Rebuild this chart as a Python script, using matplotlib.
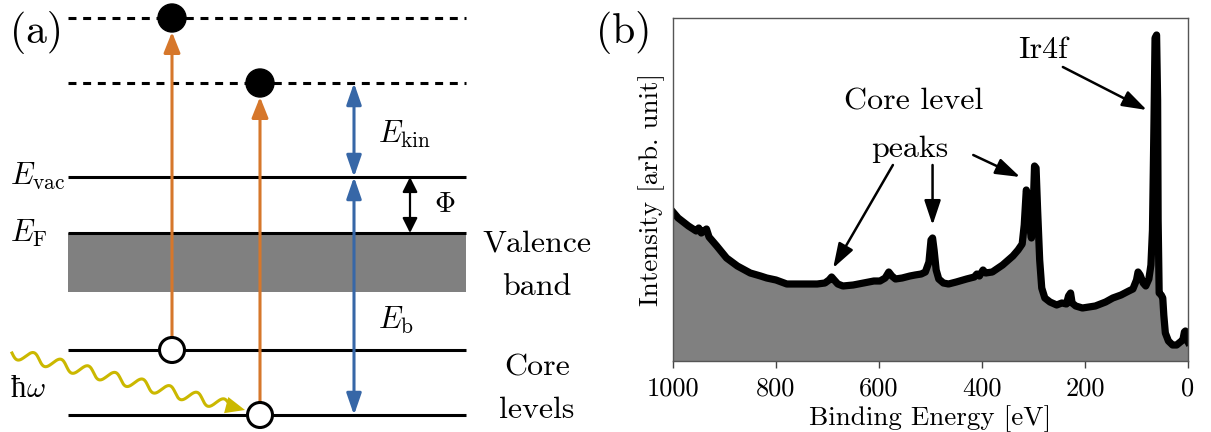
import numpy as np
import matplotlib
matplotlib.use("Agg")
import matplotlib.pyplot as plt
from matplotlib.patches import Circle, Rectangle, FancyArrowPatch

plt.rcParams['font.family'] = 'serif'
plt.rcParams['font.serif'] = ['cmr10', 'DejaVu Serif']
plt.rcParams['mathtext.fontset'] = 'cm'
plt.rcParams['axes.formatter.use_mathtext'] = True

# ---------------- data: XPS survey spectrum (panel b) ----------------
binding_energy = [1000, 990, 970, 955, 950, 945, 935, 930, 915, 896, 875, 850, 830, 818,
                  800, 779, 760, 740, 720, 705, 697, 692, 687, 680, 670, 650, 630, 610,
                  598, 588, 581, 575, 568, 555, 540, 530, 518, 510, 503, 499, 496, 493,
                  489, 484, 475, 465, 450, 430, 415, 410, 405, 398, 393, 380, 360, 340,
                  330, 322, 318, 314, 311, 307, 304, 301, 298, 295, 292, 288, 284, 278,
                  268, 255, 245, 236, 232, 228, 225, 218, 205, 180, 160, 146, 130, 115,
                  107, 100, 97, 93, 87, 82, 76, 72, 69, 66, 64, 61, 59, 58, 56, 52, 49,
                  47, 44, 38, 30, 22, 15, 10, 7, 5, 2, 0]
intensity = [149, 143, 135, 130, 133, 128, 132, 124, 115, 103, 95, 88, 85, 83,
             81, 77, 77, 77, 77, 78, 81, 84, 81, 77, 75, 76, 78, 80,
             80, 83, 89, 85, 82, 83, 85, 86, 87, 89, 99, 121, 123, 111,
             91, 82, 78, 77, 79, 82, 84, 87, 85, 91, 88, 89, 96, 105,
             111, 117, 136, 171, 166, 133, 123, 146, 195, 193, 151, 101, 73, 63,
             59, 56, 58, 57, 65, 68, 58, 55, 53, 55, 59, 63, 66, 70,
             72, 81, 89, 86, 78, 75, 82, 96, 131, 241, 323, 326, 261, 141, 68, 66, 63,
             46, 28, 20, 16, 16, 19, 21, 29, 30, 21, 19]
energy_ticks = [1000, 800, 600, 400, 200, 0]

# ---------------- diagram levels (panel a) ----------------
level_x = (68, 466)
dashed_levels = [18, 83]          # free-electron final states
vac_level = 177
fermi_level = 233
band_bottom = 292
core_levels = [350, 415]
electron_x = [172, 260]

orange = '#d6772b'
blue = '#3767a7'
yellow = '#cbb800'

fig = plt.figure(figsize=(12.11, 4.32), dpi=100)

# ================= panel (a) =================
axa = fig.add_axes([0, 0, 600 / 1211, 1])
axa.set_xlim(0, 600)
axa.set_ylim(432, 0)
axa.axis('off')

for y in dashed_levels:
    axa.plot(level_x, [y, y], color='black', lw=2.2, ls=(0, (2.6, 2.2)), zorder=1)
axa.add_patch(Rectangle((level_x[0], fermi_level), level_x[1] - level_x[0],
                        band_bottom - fermi_level, facecolor='#808080', edgecolor='none', zorder=0))
for y in [vac_level, fermi_level] + core_levels:
    axa.plot(level_x, [y, y], color='black', lw=2.2, zorder=1, solid_capstyle='butt')

r_fill, r_open = 14, 12.5
for x, yt, yc in zip(electron_x, dashed_levels, core_levels):
    arr = FancyArrowPatch((x, yc - r_open), (x, yt + r_fill), arrowstyle='-|>,head_length=1.25,head_width=0.5',
                          mutation_scale=10, color=orange, lw=2.2, shrinkA=0, shrinkB=0, zorder=2)
    axa.add_patch(arr)
    axa.add_patch(Circle((x, yt), r_fill, facecolor='black', edgecolor='black', zorder=4))
    axa.add_patch(Circle((x, yc), r_open, facecolor='white', edgecolor='black', lw=2.2, zorder=4))

bx = 354
for (y0, y1) in [(dashed_levels[1], vac_level), (vac_level, core_levels[1])]:
    axa.add_patch(FancyArrowPatch((bx, y0), (bx, y1), arrowstyle='<|-|>,head_length=1.3,head_width=0.45',
                                  mutation_scale=10, color=blue, lw=2.2, shrinkA=0, shrinkB=0, zorder=3))
axa.add_patch(FancyArrowPatch((410, vac_level), (410, fermi_level), arrowstyle='<|-|>,head_length=0.9,head_width=0.45',
                              mutation_scale=10, color='black', lw=1.6, shrinkA=0, shrinkB=0, zorder=3))

# photon wave
p0 = np.array([12.0, 353.0]); p1 = np.array([226.0, 405.0])
d = p1 - p0; L = np.hypot(*d); u = d / L; nrm = np.array([-u[1], u[0]])
t = np.linspace(0, L, 400)
wave = p0[None, :] + t[:, None] * u[None, :] + (5.5 * np.sin(2 * np.pi * t / 28.0))[:, None] * nrm[None, :]
axa.plot(wave[:, 0], wave[:, 1], color=yellow, lw=2.2, zorder=2)
axa.add_patch(FancyArrowPatch((222, 404), (245, 410), arrowstyle='-|>,head_length=1.4,head_width=0.6',
                              mutation_scale=10, color=yellow, lw=0, shrinkA=0, shrinkB=0, zorder=2))

fs_lab = 21
axa.text(36, 33, '(a)', fontsize=30, ha='center', va='center')
axa.text(10, 185, r'$E_\mathrm{vac}$', fontsize=22, ha='left', va='baseline')
axa.text(10, 242, r'$E_\mathrm{F}$', fontsize=22, ha='left', va='baseline')
axa.text(378, 143, r'$E_\mathrm{kin}$', fontsize=22, ha='left', va='baseline')
axa.text(378, 329, r'$E_\mathrm{b}$', fontsize=22, ha='left', va='baseline')
axa.text(445, 205, r'$\Phi$', fontsize=fs_lab, ha='center', va='center')
axa.text(11, 397, 'ħ', fontsize=22, ha='left', va='baseline', family='Liberation Serif')
axa.text(26, 397, r'$\omega$', fontsize=fs_lab, ha='left', va='baseline')
for txt, y in [('Valence', 251), ('band', 295), ('Core', 375), ('levels', 418)]:
    axa.text(537, y, txt, fontsize=23, ha='center', va='baseline')

# ================= panel (b) =================
axb = fig.add_axes([673 / 1211, (432 - 361) / 432, (1188 - 673) / 1211, (361 - 18) / 432])
axb.fill_between(binding_energy, intensity, 0, color='#808080', lw=0, zorder=1)
axb.plot(binding_energy, intensity, color='black', lw=5.2, solid_joinstyle='round', zorder=2)
axb.set_xlim(1000, 0)
axb.set_ylim(0, 343)
axb.set_xticks(energy_ticks)
axb.set_xticklabels([str(v) for v in energy_ticks])
axb.set_yticks([])
axb.tick_params(axis='x', labelsize=19, direction='out', length=5, width=1, color='#444444', pad=6)
for s in axb.spines.values():
    s.set_color('#555555'); s.set_linewidth(1)
axb.set_xlabel('Binding Energy [eV]', fontsize=19.5, labelpad=4)
axb.set_ylabel('Intensity [arb. unit]', fontsize=19.5, labelpad=6)

fig.text(624 / 1211, 1 - 33 / 432, '(b)', fontsize=30, ha='center', va='center')

aprops = dict(arrowstyle='-|>,head_length=1.5,head_width=0.5', mutation_scale=10,
              color='black', lw=1.8, shrinkA=0, shrinkB=0)
axb.text(281, 311, 'Ir4f', fontsize=23, ha='center', va='center')
axb.annotate('', xy=(80, 251), xytext=(243, 294), arrowprops=aprops)
axb.text(532, 259, 'Core level', fontsize=23, ha='center', va='center')
axb.text(540, 212, 'peaks', fontsize=23, ha='center', va='center')
axb.annotate('', xy=(689, 93), xytext=(573, 196), arrowprops=aprops)
axb.annotate('', xy=(496, 136), xytext=(496, 196), arrowprops=aprops)
axb.annotate('', xy=(326, 184), xytext=(417, 206), arrowprops=aprops)

fig.savefig('out.png', dpi=100)
